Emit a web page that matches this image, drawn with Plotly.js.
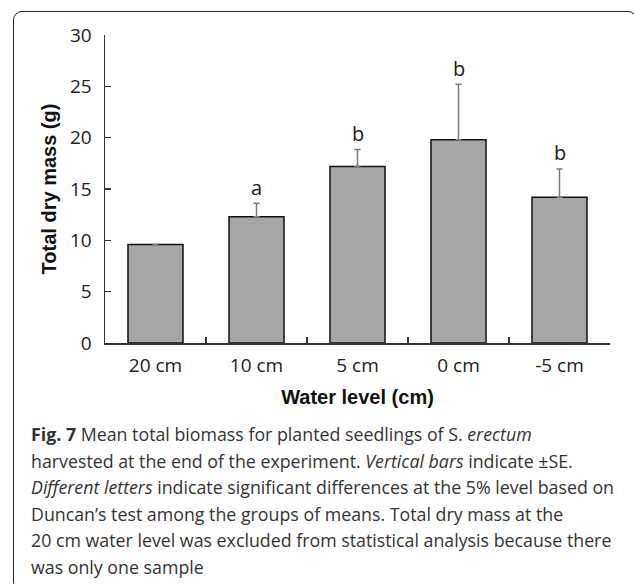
<!DOCTYPE html>
<html>
<head>
<meta charset="utf-8">
<script src="https://cdn.plot.ly/plotly-3.0.1.min.js"></script>
<style>
  html, body { margin: 0; padding: 0; background: #ffffff; }
  #wrap { position: relative; width: 634px; height: 584px; overflow: hidden; }
  #frame { position: absolute; left: 13px; top: 11px; width: 624px; height: 580px;
           border: 1.5px solid #222; border-radius: 9px; box-sizing: border-box; pointer-events: none; }
  #chart { position: absolute; left: 0; top: 0; width: 634px; height: 584px; }
</style>
</head>
<body>
<div id="wrap">
  <div id="chart"></div>
  <div id="frame"></div>
</div>
<script>
// ---- data ----
const categories = ['20 cm', '10 cm', '5 cm', '0 cm', '-5 cm'];
const meanMass = [9.6, 12.3, 17.2, 19.8, 14.2];
const seMass = [0, 1.3, 1.65, 5.4, 2.75];
const sigLetters = ['', 'a', 'b', 'b', 'b'];
const yTickValues = [0, 5, 10, 15, 20, 25, 30];
const captionLines = [
  '<b>Fig. 7</b> Mean total biomass for planted seedlings of S. <i>erectum</i>',
  'harvested at the end of the experiment. <i>Vertical bars</i> indicate \u00b1SE.',
  '<i>Different letters</i> indicate significant differences at the 5% level based on',
  'Duncan\u2019s test among the groups of means. Total dry mass at the',
  '20 cm water level was excluded from statistical analysis because there',
  'was only one sample'
];

// ---- geometry ----
const W = 634, H = 584;
const M = { l: 105, r: 24, t: 35, b: 241 };
const plotH = H - M.t - M.b;
const plotW = W - M.l - M.r;
const pyPaper = (px) => (H - M.b - px) / plotH;
const pxPaper = (px) => (px - M.l) / plotW;

const bodyFont = 'Open Sans, Noto Sans, sans-serif';

const trace = {
  type: 'bar',
  x: categories,
  y: meanMass,
  marker: { color: '#a6a6a6', line: { color: '#111111', width: 1.5 } },
  error_y: {
    type: 'data', symmetric: false, array: seMass,
    arrayminus: seMass.map(() => 0),
    color: '#7a7a7a', thickness: 1.5, width: 3
  },
  hoverinfo: 'skip'
};

const annotations = [];
categories.forEach((c, i) => {
  if (!sigLetters[i]) return;
  annotations.push({
    x: c, y: meanMass[i] + seMass[i], xref: 'x', yref: 'y',
    text: sigLetters[i], showarrow: false, yanchor: 'middle', yshift: 16,
    font: { family: bodyFont, size: 20, color: '#1a1a1a' }
  });
});

const lineY = [434, 460.5, 487, 513.5, 540, 566.5];
captionLines.forEach((t, i) => {
  annotations.push({
    xref: 'paper', yref: 'paper', x: pxPaper(29), y: pyPaper(lineY[i]),
    xanchor: 'left', yanchor: 'middle', showarrow: false, align: 'left',
    text: t, font: { family: bodyFont, size: 17.8, color: '#333333' }
  });
});

const layout = {
  width: W, height: H,
  margin: M,
  paper_bgcolor: '#ffffff', plot_bgcolor: '#ffffff',
  showlegend: false,
  bargap: 0.455,
  xaxis: {
    type: 'category',
    range: [-0.5, 4.5],
    showline: true, linecolor: '#333333', linewidth: 1.5,
    ticks: 'inside', ticklen: 6, tickwidth: 1.3, tickcolor: '#333333',
    tickson: 'boundaries',
    showgrid: false, zeroline: false,
    ticklabelstandoff: 5,
    tickfont: { family: bodyFont, size: 19, color: '#222222' },
    title: { text: 'Water level (cm)', standoff: 12,
             font: { family: 'Liberation Sans, Arial, sans-serif', size: 20, color: '#111111', weight: 'bold' } }
  },
  yaxis: {
    range: [0, 30],
    tickvals: yTickValues,
    showline: true, linecolor: '#333333', linewidth: 1.5,
    ticks: 'inside', ticklen: 6, tickwidth: 1.3, tickcolor: '#333333',
    showgrid: false, zeroline: false,
    ticklabelstandoff: 8,
    tickfont: { family: bodyFont, size: 19, color: '#222222' },
    title: { text: 'Total dry mass (g)', standoff: 8,
             font: { family: 'Liberation Sans, Arial, sans-serif', size: 20, color: '#111111', weight: 'bold' } }
  },
  annotations: annotations
};

Plotly.newPlot('chart', [trace], layout, { displayModeBar: false, staticPlot: true });
</script>
</body>
</html>
